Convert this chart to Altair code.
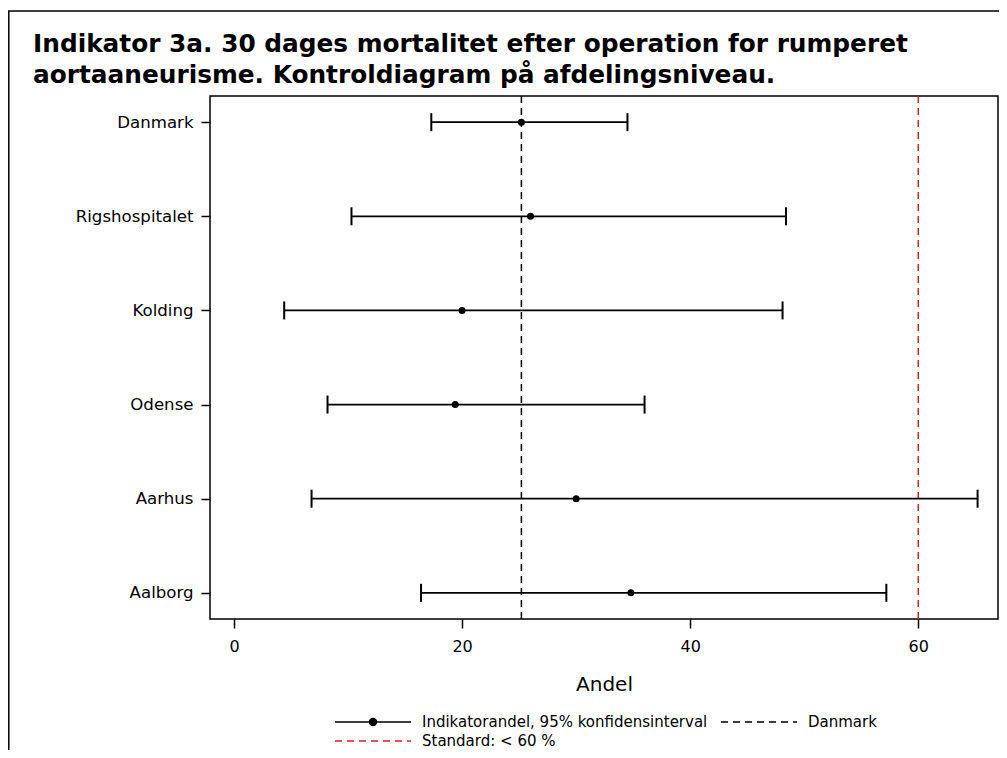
import altair as alt
import pandas as pd

# ---- data ----
sites = ["Danmark", "Rigshospitalet", "Kolding", "Odense", "Aarhus", "Aalborg"]
rates = [25.2, 26.0, 20.0, 19.4, 30.0, 34.8]
ci_low = [17.3, 10.3, 4.4, 8.2, 6.8, 16.4]
ci_high = [34.5, 48.4, 48.1, 36.0, 65.2, 57.2]
national_rate = [25.2]
standard = [60]
x_ticks = [0, 20, 40, 60]

title_lines = ["Indikator 3a. 30 dages mortalitet efter operation for rumperet",
               "aortaaneurisme. Kontroldiagram på afdelingsniveau."]
leg_ci = "Indikatorandel, 95% konfidensinterval"
leg_dk = "Danmark"
leg_std = "Standard: < 60 %"

FONT = "DejaVu Sans"
RED = "#d42027"
DASH = [7, 5]

df = pd.DataFrame({"site": sites, "rate": rates, "low": ci_low, "high": ci_high})
df["lbl"] = leg_ci
dk_df = pd.DataFrame({"x": national_rate, "lbl": [leg_dk]})
std_df = pd.DataFrame({"x": standard, "lbl": [leg_std]})

W, H = 788, 523
x_scale = alt.Scale(domain=[-2.104, 66.99], nice=False, zero=False)
y_scale = alt.Scale(type="point", domain=sites, padding=0.278)

x_enc = alt.X("low:Q", scale=x_scale,
              axis=alt.Axis(title="Andel", values=x_ticks, grid=False, domain=False,
                            tickSize=9, tickWidth=1.5, tickColor="black",
                            labelFont=FONT, labelFontSize=16, labelColor="black",
                            labelPadding=10, titleFont=FONT, titleFontSize=20,
                            titleFontWeight="normal", titleColor="black",
                            titlePadding=20))
y_enc = alt.Y("site:N", scale=y_scale, sort=sites,
              axis=alt.Axis(title=None, grid=False, domain=False, tickSize=9,
                            tickWidth=1.5, tickColor="black", labelFont=FONT,
                            labelFontSize=16.6, labelColor="black", labelPadding=8))

DOT_PATH = ("M-1,0H1"
            "M0.09,0A0.09,0.09,0,1,1,-0.09,0A0.09,0.09,0,1,1,0.09,0Z"
            "M0.055,0A0.055,0.055,0,1,1,-0.055,0A0.055,0.055,0,1,1,0.055,0Z"
            "M0.02,0A0.02,0.02,0,1,1,-0.02,0A0.02,0.02,0,1,1,0.02,0Z")

def leg(x, y, symbol, dash=None):
    kw = dict(orient="none", legendX=x, legendY=y, title=None, symbolType=symbol,
              symbolSize=5776, symbolStrokeWidth=1.6, labelFont=FONT,
              labelFontSize=15, labelColor="black", labelOffset=10, padding=0,
              labelLimit=0, symbolFillColor="black")
    if dash:
        kw["symbolDash"] = dash
        kw["symbolFillColor"] = "transparent"
    return alt.Legend(**kw)

base = alt.Chart(df)

err = base.mark_rule(strokeWidth=1.8).encode(
    x=x_enc, x2="high:Q", y=y_enc,
    stroke=alt.Stroke("lbl:N", scale=alt.Scale(domain=[leg_ci], range=["black"]),
                      legend=leg(124, 587, DOT_PATH)))

cap_lo = base.mark_tick(orient="vertical", size=18, thickness=2, color="black",
                        opacity=1).encode(
    x=alt.X("low:Q", scale=x_scale), y=alt.Y("site:N", scale=y_scale, sort=sites))
cap_hi = base.mark_tick(orient="vertical", size=18, thickness=2, color="black",
                        opacity=1).encode(
    x=alt.X("high:Q", scale=x_scale), y=alt.Y("site:N", scale=y_scale, sort=sites))

pts = base.mark_circle(size=49, color="black", opacity=1).encode(
    x=alt.X("rate:Q", scale=x_scale), y=alt.Y("site:N", scale=y_scale, sort=sites))

dk = alt.Chart(dk_df).mark_rule(strokeWidth=1.5, strokeDash=DASH).encode(
    x=alt.X("x:Q", scale=x_scale),
    stroke=alt.Stroke("lbl:N", scale=alt.Scale(domain=[leg_dk], range=["black"]),
                      legend=leg(510, 587, "M-1,0H1", DASH)))

std = alt.Chart(std_df).mark_rule(strokeWidth=1.5, strokeDash=DASH).encode(
    x=alt.X("x:Q", scale=x_scale),
    stroke=alt.Stroke("lbl:N", scale=alt.Scale(domain=[leg_std], range=[RED]),
                      legend=leg(124, 606, "M-1,0H1", DASH)))

# decorative outer frame of the figure
frame = alt.Chart(dk_df).mark_rect(fill="transparent", stroke="black", strokeWidth=1.5,
                                   clip=False).encode(
    x=alt.value(-201.2), x2=alt.value(900), y=alt.value(-85), y2=alt.value(800))

title_style = dict(align="left", baseline="alphabetic", font=FONT, fontSize=24.8,
                   fontWeight="bold", color="black", clip=False)
title1 = alt.Chart(dk_df).mark_text(**title_style).encode(
    x=alt.value(-177), y=alt.value(-44), text=alt.value(title_lines[0]))
title2 = alt.Chart(dk_df).mark_text(**title_style).encode(
    x=alt.value(-177), y=alt.value(-13), text=alt.value(title_lines[1]))

chart = alt.layer(frame, title1, title2, dk, std, err, cap_lo, cap_hi, pts).resolve_scale(
    stroke="independent").resolve_legend(stroke="independent").properties(
    width=W, height=H,
    autosize=alt.AutoSizeParams(type="none"),
    padding={"left": 202, "top": 88, "right": 1, "bottom": 131},
).configure(background="white").configure_view(stroke="black", strokeWidth=1.5)

chart.save("out.html", embed_options={"renderer": "svg", "actions": False})
